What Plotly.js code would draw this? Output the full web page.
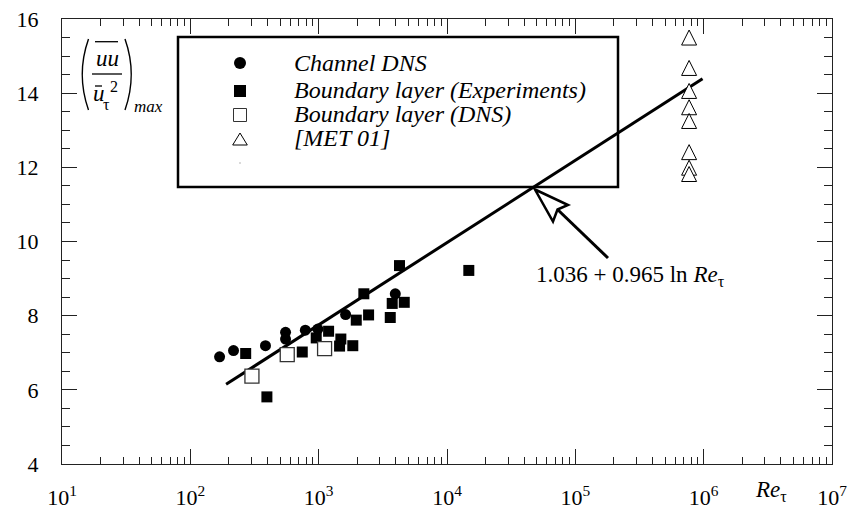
<!DOCTYPE html>
<html><head><meta charset="utf-8">
<script src="https://cdn.plot.ly/plotly-3.0.1.min.js"></script>
<style>body{margin:0;background:#fff}</style>
</head><body><div id="chart" style="width:853px;height:510px"></div>
<script>
// ---- data ----
const channelRe = [169, 217, 385, 552, 552, 787, 986, 1622, 3954];
const channelUU = [6.89, 7.06, 7.19, 7.55, 7.37, 7.61, 7.64, 8.03, 8.59];

const blExpRe = [270, 395, 745, 957, 1195, 1489, 1455, 1845, 1963, 2449, 2249, 3613, 3742, 4645, 4266, 14790];
const blExpUU = [6.98, 5.81, 7.02, 7.40, 7.58, 7.37, 7.18, 7.19, 7.88, 8.02, 8.59, 7.95, 8.33, 8.36, 9.35, 9.22];

const blDnsRe = [302, 569, 1112];
const blDnsUU = [6.37, 6.95, 7.11];

const metRe = [770000, 770000, 770000, 770000, 770000, 770000, 770000, 770000];
const metUU = [15.50, 14.68, 14.06, 13.62, 13.25, 12.41, 11.99, 11.82];

const fitRe = [190, 980000];
const fitUU = [6.15, 14.39];

const legendNames = ['Channel DNS', 'Boundary layer (Experiments)', 'Boundary layer (DNS)', '[MET 01]'];
const xTickVals = [1e1, 1e2, 1e3, 1e4, 1e5, 1e6, 1e7];
const xTickText = ['10<sup>1</sup>', '10<sup>2</sup>', '10<sup>3</sup>', '10<sup>4</sup>', '10<sup>5</sup>', '10<sup>6</sup>', '10<sup>7</sup>'];
const fitLabel = '1.036 + 0.965 ln <i>Re</i><sub>τ</sub>';

// ---- layout helpers ----
const W = 853, H = 510, L = 62, R = 21, T = 19, B = 46;
const pw = W - L - R, ph = H - T - B;
const px = x => (x - L) / pw;
const py = y => (H - B - y) / ph;
const FONT = "'Liberation Serif', 'DejaVu Serif', serif";

const minorX = [];
for (let d = 0; d < xTickVals.length - 1; d++) {
  for (let k = 2; k <= 9; k++) minorX.push(xTickVals[d] * k);
}

const traces = [
  {x: fitRe, y: fitUU, mode: 'lines', line: {color: '#000', width: 3}, showlegend: false, hoverinfo: 'skip'},
  {x: channelRe, y: channelUU, mode: 'markers', name: legendNames[0],
   marker: {symbol: 'circle', size: 11, color: '#000'}},
  {x: blExpRe, y: blExpUU, mode: 'markers', name: legendNames[1],
   marker: {symbol: 'square', size: 11, color: '#000'}},
  {x: blDnsRe, y: blDnsUU, mode: 'markers', name: legendNames[2],
   marker: {symbol: 'square', size: 14, color: '#fff', line: {color: '#333', width: 1.3}}},
  {x: metRe, y: metUU, mode: 'markers', name: legendNames[3],
   marker: {symbol: 'arrow-down', angle: 180, standoff: 7.5, size: 15, color: '#fff', line: {color: '#000', width: 1}}}
];

const ln = (x0, y0, x1, y1, w) => ({type: 'line', xref: 'paper', yref: 'paper',
  x0: px(x0), y0: py(y0), x1: px(x1), y1: py(y1), line: {color: '#000', width: w}});

const shapes = [
  // legend frame
  {type: 'rect', xref: 'paper', yref: 'paper', x0: px(178), x1: px(618), y0: py(37), y1: py(187),
   line: {color: '#000', width: 2.5}, fillcolor: 'rgba(0,0,0,0)'},
  {type: 'circle', xref: 'paper', yref: 'paper', x0: px(234), x1: px(246), y0: py(57), y1: py(69),
   fillcolor: '#000', line: {width: 0}},
  {type: 'rect', xref: 'paper', yref: 'paper', x0: px(234), x1: px(246), y0: py(85), y1: py(97),
   fillcolor: '#000', line: {width: 0}},
  {type: 'rect', xref: 'paper', yref: 'paper', x0: px(233.5), x1: px(246.5), y0: py(108.5), y1: py(121.5),
   fillcolor: '#fff', line: {color: '#333', width: 1}},
  {type: 'path', xref: 'paper', yref: 'paper',
   path: `M${px(232.7)},${py(145)} L${px(240)},${py(133)} L${px(247.3)},${py(145)} Z`,
   fillcolor: '#fff', line: {color: '#000', width: 1}},
  {type: 'circle', xref: 'paper', yref: 'paper', x0: px(239.3), x1: px(240.7), y0: py(162.3), y1: py(163.7),
   fillcolor: '#999', line: {width: 0}},
  // y-axis title decorations
  {type: 'path', xref: 'paper', yref: 'paper',
   path: `M${px(88.5)},${py(39)} Q${px(76)},${py(74.5)} ${px(88.5)},${py(110)}`, line: {color: '#000', width: 1.4}},
  {type: 'path', xref: 'paper', yref: 'paper',
   path: `M${px(125)},${py(39)} Q${px(137.5)},${py(74.5)} ${px(125)},${py(110)}`, line: {color: '#000', width: 1.4}},
  ln(95, 41.7, 118, 41.7, 1.3),
  ln(92, 74, 122, 74, 1.3),
  ln(95, 86, 102, 86, 1.3),
  // arrow to the fit line
  ln(557, 209, 608, 258, 3),
  {type: 'path', xref: 'paper', yref: 'paper',
   path: `M${px(535)},${py(189.5)} L${px(568)},${py(205)} L${px(557.5)},${py(209.5)} L${px(553)},${py(221.5)} Z`,
   fillcolor: '#fff', line: {color: '#000', width: 2.5}}
];

const ann = (x, y, text, size, extra) => Object.assign({xref: 'paper', yref: 'paper', x: px(x), y: py(y),
  text: text, showarrow: false, xanchor: 'center', yanchor: 'middle',
  font: {family: FONT, size: size, color: '#000'}}, extra || {});

const annotations = [
  ann(292, 63, '<i>' + legendNames[0] + '</i>', 24, {xanchor: 'left'}),
  ann(292, 90, '<i>' + legendNames[1] + '</i>', 24, {xanchor: 'left'}),
  ann(292, 114, '<i>' + legendNames[2] + '</i>', 24, {xanchor: 'left'}),
  ann(292, 138, '<i>' + legendNames[3] + '</i>', 24, {xanchor: 'left'}),
  ann(107, 58, '<i>uu</i>', 23),
  ann(99, 94, '<i>u</i>', 23),
  ann(106.5, 104, 'τ', 16),
  ann(114, 87, '2', 16),
  ann(148, 107, '<i>max</i>', 17),
  ann(630, 276, fitLabel, 23),
  ann(771, 491, '<i>Re</i><sub>τ</sub>', 23)
];

const axisCommon = {
  showline: true, linecolor: '#222', linewidth: 1, mirror: 'allticks',
  ticks: 'inside', ticklen: 15, tickwidth: 1, tickcolor: '#222',
  showgrid: false, zeroline: false,
  tickfont: {family: FONT, size: 22, color: '#000'}
};

const layout = {
  width: W, height: H,
  margin: {l: L, r: R, t: T, b: B, pad: 0},
  paper_bgcolor: '#fff', plot_bgcolor: '#fff',
  showlegend: false,
  font: {family: FONT, color: '#000'},
  xaxis: Object.assign({}, axisCommon, {
    type: 'log', range: [1, 7], tickmode: 'array', tickvals: xTickVals, ticktext: xTickText,
    ticklabelstandoff: 14,
    minor: {tickmode: 'array', tickvals: minorX, ticks: 'inside', ticklen: 7, tickcolor: '#222', showgrid: false}
  }),
  yaxis: Object.assign({}, axisCommon, {
    range: [4, 16], tickmode: 'linear', tick0: 4, dtick: 2,
    ticklabelstandoff: 18,
    minor: {dtick: 0.5, ticks: 'inside', ticklen: 8, tickcolor: '#222', showgrid: false}
  }),
  shapes: shapes,
  annotations: annotations
};

Plotly.newPlot('chart', traces, layout, {staticPlot: true, displayModeBar: false});
</script>
</body></html>
